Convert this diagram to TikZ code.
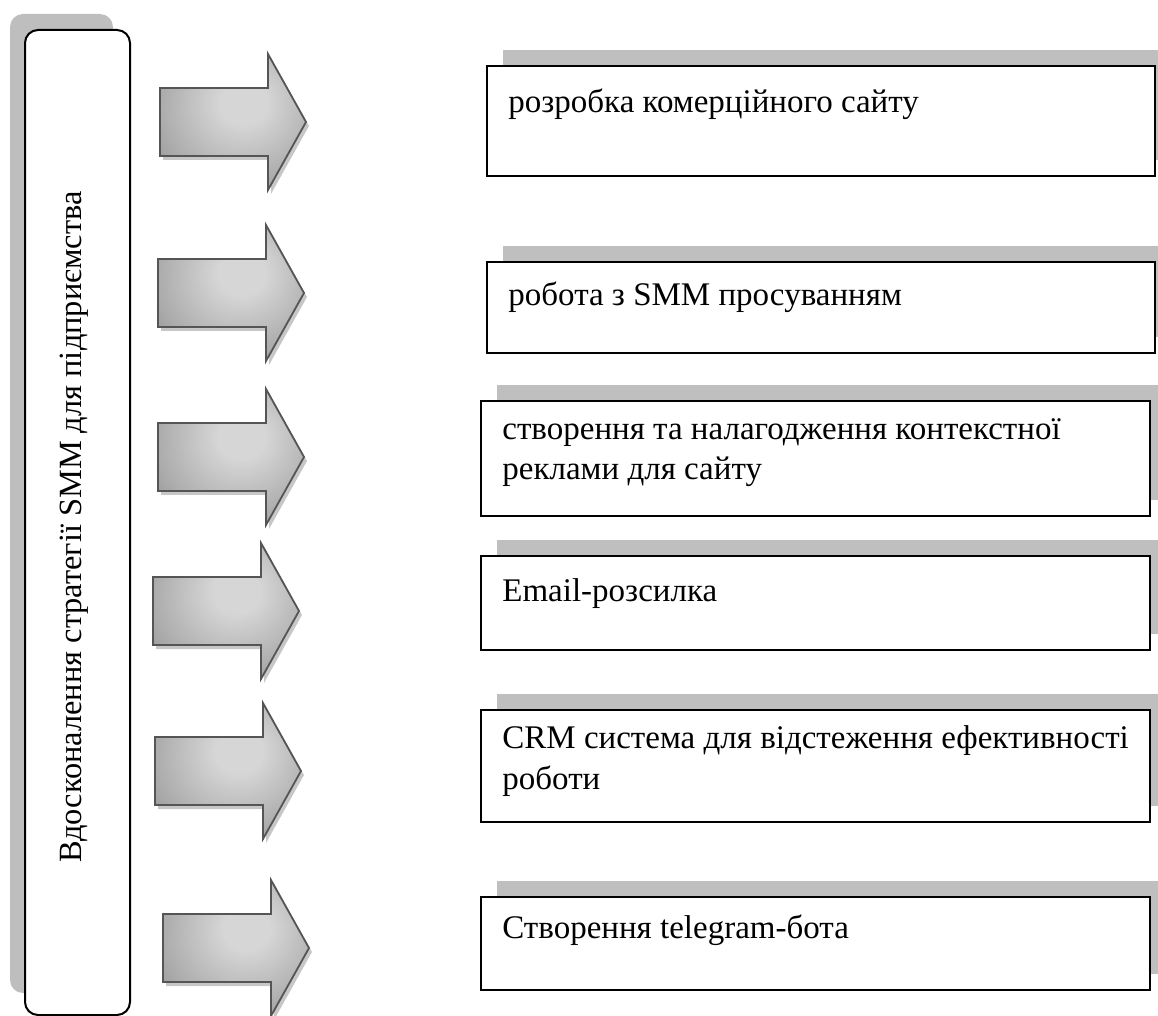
\documentclass[tikz,border=0pt]{standalone}
\usepackage{fontspec}
\setmainfont{Liberation Serif}
\definecolor{shadowgray}{HTML}{BFBFBF}
\definecolor{leftshadow}{HTML}{BEBEBE}
\definecolor{arrowlight}{HTML}{D6D6D6}
\definecolor{arrowmid}{HTML}{ABABAB}
\definecolor{arrowdark}{HTML}{6E6E6E}
\definecolor{arrowline}{HTML}{555555}
\pgfdeclareradialshading{arrowshade}{\pgfpoint{4bp}{8bp}}{color(0bp)=(arrowlight); color(8bp)=(arrowlight); color(28bp)=(arrowmid); color(52bp)=(arrowdark); color(80bp)=(arrowdark)}
\newcommand\itembox[5]{%
  \fill[shadowgray] (#2+16,#3-16) rectangle (1158,#5-16);
  \node[itembox, minimum width={(#4-#2)*0.5pt}, minimum height={(#5-#3)*0.5pt}] (#1) at (#2,#3) {};
}
\begin{document}
\begin{tikzpicture}[x=0.5pt,y=-0.5pt,
  itembox/.style={draw=black, line width=1pt, fill=white, rectangle, inner sep=0pt, outer sep=0pt, anchor=north west},
  itemtext/.style={anchor=base west, inner sep=0pt, font=\fontsize{16.5pt}{20pt}\selectfont},
  mainbox/.style={draw=black, line width=1pt, fill=white, rounded corners=6.5pt, inner sep=0pt, outer sep=0pt, anchor=north west},
  bigarrow/.pic={
    \fill[black!40, opacity=0.55] (3,-30) -- (111,-30) -- (111,-64) -- (149,4) -- (111,72) -- (111,38) -- (3,38) -- cycle;
    \path[shading=arrowshade, draw=arrowline, line width=0.9pt, line join=miter]
      (0,-34) -- (108,-34) -- (108,-68) -- (146,0) -- (108,68) -- (108,34) -- (0,34) -- cycle;
  }]
\useasboundingbox (0,0) rectangle (1158,1016);
% left main box
\fill[leftshadow, rounded corners=6.5pt] (10,14) rectangle (113,993);
\node[mainbox, minimum width=52.5pt, minimum height=492.5pt] (main) at (25,30) {};
\node[rotate=90, anchor=base, inner sep=0pt, font=\fontsize{16.2pt}{20pt}\selectfont] (maintext) at (81,527) {Вдосконалення стратегії SMM для підприємства};
% arrows
\pic (a1) at (160,122) {bigarrow};
\pic (a2) at (158,293) {bigarrow};
\pic (a3) at (158,457) {bigarrow};
\pic (a4) at (153,611) {bigarrow};
\pic (a5) at (155,771) {bigarrow};
\pic (a6) at (163,948) {bigarrow};
% item boxes
\itembox{b1}{487}{66}{1155}{176}
\itembox{b2}{487}{262}{1155}{353}
\itembox{b3}{481}{401}{1150}{516}
\itembox{b4}{481}{556}{1150}{650}
\itembox{b5}{481}{710}{1150}{822}
\itembox{b6}{481}{897}{1150}{990}
% texts
\node[itemtext] (t1) at (508,113) {розробка комерційного сайту};
\node[itemtext] (t2) at (508,306) {робота з SMM просуванням};
\node[itemtext] (t3a) at (502,440) {створення та налагодження контекстної};
\node[itemtext] (t3b) at (502,480) {реклами для сайту};
\node[itemtext] (t4) at (502,602) {Email-розсилка};
\node[itemtext] (t5a) at (502,748) {CRM система для відстеження ефективності};
\node[itemtext] (t5b) at (502,789) {роботи};
\node[itemtext] (t6) at (502,938) {Створення telegram-бота};
\end{tikzpicture}
\end{document}
